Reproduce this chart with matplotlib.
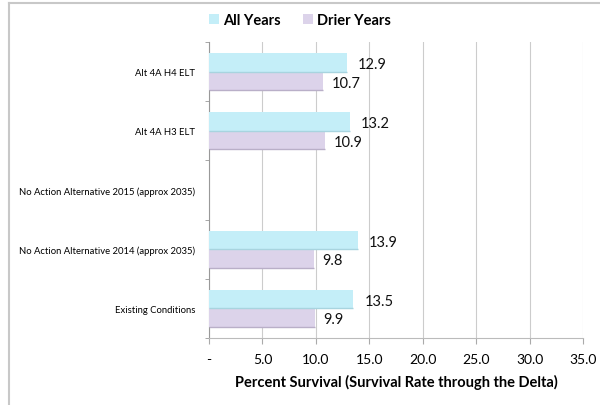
import matplotlib
matplotlib.use("Agg")
import matplotlib.pyplot as plt
import numpy as np

categories = ["Existing Conditions",
              "No Action Alternative 2014 (approx 2035)",
              "No Action Alternative 2015 (approx 2035)",
              "Alt 4A H3 ELT",
              "Alt 4A H4 ELT"]
all_years = [13.5, 13.9, np.nan, 13.2, 12.9]
drier_years = [9.9, 9.8, np.nan, 10.9, 10.7]
xticks = [0, 5, 10, 15, 20, 25, 30, 35]
xticklabels = ["-", "5.0", "10.0", "15.0", "20.0", "25.0", "30.0", "35.0"]

plt.rcParams['font.family'] = ['Lato', 'DejaVu Sans']

fig = plt.figure(figsize=(6, 4.06), dpi=100)
ax = fig.add_axes([209/600, 1-339/406, (583-209)/600, (339-43)/406])

# outer border lines
fig.add_artist(plt.Line2D([9/600, 9/600], [0, 1-4/406], color="#c8c8c8", lw=1.5, transform=fig.transFigure))
fig.add_artist(plt.Line2D([9/600, 1], [1-4/406, 1-4/406], color="#c8c8c8", lw=1.5, transform=fig.transFigure))

y = np.arange(len(categories))
h = 0.31
c_all = "#c4eef8"
c_dry = "#dcd3ea"
b1 = ax.barh(y + h/2, all_years, height=h, color=c_all, lw=0, zorder=3, label="All Years")
b2 = ax.barh(y - h/2, drier_years, height=h, color=c_dry, lw=0, zorder=3, label="Drier Years")
# subtle bottom shadow of each bar
for bars, sc in ((b1, "#a8d4df"), (b2, "#b9afc8")):
    for r in bars:
        w = r.get_width()
        if not np.isnan(w):
            ax.plot([0, w], [r.get_y(), r.get_y()], color=sc, lw=1, zorder=4, solid_capstyle="butt")

for yi, v in zip(y, all_years):
    if not np.isnan(v):
        ax.annotate(f"{v:.1f}", (v, yi + h/2 - 0.03), xytext=(8, 0), textcoords="offset points",
                    va="center", ha="left", fontsize=10.5, color="#111111")
for yi, v in zip(y, drier_years):
    if not np.isnan(v):
        ax.annotate(f"{v:.1f}", (v, yi - h/2 - 0.03), xytext=(6, 0), textcoords="offset points",
                    va="center", ha="left", fontsize=10.5, color="#111111")

ax.set_xlim(0, 35)
ax.set_ylim(-0.5, 4.5)
ax.set_xticks(xticks)
ax.set_xticklabels(xticklabels, fontsize=10)
ax.set_yticks(y)
ax.set_yticklabels(categories, fontsize=6.8)
ax.set_yticks(np.arange(-0.5, 5, 1), minor=True)
ax.tick_params(axis="y", which="major", length=0, pad=10)
ax.tick_params(axis="y", which="minor", length=3, color="#999999", direction="out")
ax.tick_params(axis="x", which="major", length=4, color="#aaaaaa", direction="out", pad=7)

ax.grid(axis="x", color="#cccccc", lw=0.8, zorder=0)
for s in ["top", "right"]:
    ax.spines[s].set_visible(False)
ax.spines["left"].set_color("#999999")
ax.spines["bottom"].set_color("#bbbbbb")

ax.set_xlabel("Percent Survival (Survival Rate through the Delta)", fontsize=10.5, fontweight="bold", labelpad=6)

fig.legend(handles=[b1, b2], labels=["All Years", "Drier Years"], loc="center", bbox_to_anchor=(0.5, 1-21/406),
           ncol=2, frameon=False, handlelength=0.7, handleheight=0.7, handletextpad=0.3,
           columnspacing=1.5, prop={'weight': 'bold', 'size': 10.5})

fig.savefig("out.png", dpi=100)
